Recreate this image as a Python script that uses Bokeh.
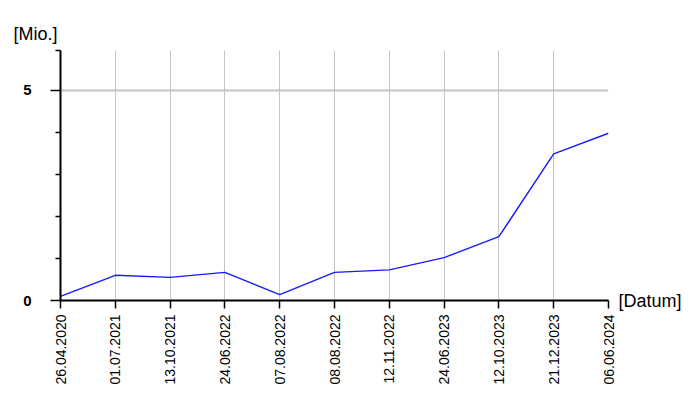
import math
from bokeh.plotting import figure
from bokeh.models import Range1d, FixedTicker, Title, LinearAxis
from bokeh.embed import file_html
from bokeh.resources import INLINE

dates = ["26.04.2020", "01.07.2021", "13.10.2021", "24.06.2022", "07.08.2022",
         "08.08.2022", "12.11.2022", "24.06.2023", "12.10.2023", "21.12.2023",
         "06.06.2024"]
values = [0.10, 0.60, 0.55, 0.67, 0.14, 0.67, 0.73, 1.02, 1.52, 3.49, 3.98]
y_major = [0, 5]
y_minor = [1, 2, 3, 4, 5.95]
y_unit = "[Mio.]"
x_unit = "[Datum]"

idx = list(range(len(dates)))
FONT = "Liberation Sans"

p = figure(width=684, height=392, output_backend="svg", toolbar_location=None,
           x_range=Range1d(0, len(dates) - 1), y_range=Range1d(0, 5.95),
           min_border_left=60, min_border_right=76, min_border_top=50,
           min_border_bottom=92)
p.outline_line_color = None
p.background_fill_color = "white"
p.border_fill_color = "white"

p.line(idx, values, line_color="#1a1aff", line_width=1.4)

# x axis
xa = p.xaxis[0]
xa.ticker = FixedTicker(ticks=idx)
xa.major_label_overrides = {i: d for i, d in zip(idx, dates)}
xa.major_label_orientation = math.pi / 2
xa.major_label_text_font = FONT
xa.major_label_text_font_size = "14px"
xa.major_label_text_color = "black"
xa.major_label_standoff = 6
xa.major_tick_out = 8
xa.major_tick_in = 0
xa.minor_tick_line_color = None
xa.axis_line_width = 2
xa.axis_line_color = "black"
xa.major_tick_line_width = 1.5
xa.major_tick_line_color = "black"

# y axis
ya = p.yaxis[0]
ya.ticker = FixedTicker(ticks=y_major, minor_ticks=y_minor)
ya.major_label_text_font = FONT
ya.major_label_text_font_size = "15px"
ya.major_label_text_font_style = "bold"
ya.major_label_text_color = "black"
ya.major_label_standoff = 19
ya.major_tick_out = 10
ya.major_tick_in = 0
ya.minor_tick_out = 5
ya.minor_tick_in = 0
ya.axis_line_width = 2
ya.axis_line_color = "black"
ya.major_tick_line_width = 1.5
ya.minor_tick_line_width = 1.5
ya.major_tick_line_color = "black"
ya.minor_tick_line_color = "black"

# unit label on the right, level with the x axis
ra = LinearAxis(ticker=FixedTicker(ticks=[0]), major_label_overrides={0: x_unit},
                axis_line_color=None, major_tick_line_color=None,
                minor_tick_line_color=None, major_label_standoff=4,
                major_label_text_font=FONT, major_label_text_font_size="18px",
                major_label_text_color="black")
p.add_layout(ra, "right")

# unit label above the y axis
p.add_layout(Title(text=y_unit, align="left", offset=-47, standoff=14,
                   text_font=FONT, text_font_size="18px",
                   text_font_style="normal", text_color="black"), "above")

# grids
p.xgrid.ticker = FixedTicker(ticks=idx)
p.xgrid.grid_line_color = "#c4c4c4"
p.xgrid.grid_line_width = 1
p.ygrid.ticker = FixedTicker(ticks=[5])
p.ygrid.grid_line_color = "#c4c4c4"
p.ygrid.grid_line_width = 2

open("out.html", "w").write(file_html(p, INLINE))
